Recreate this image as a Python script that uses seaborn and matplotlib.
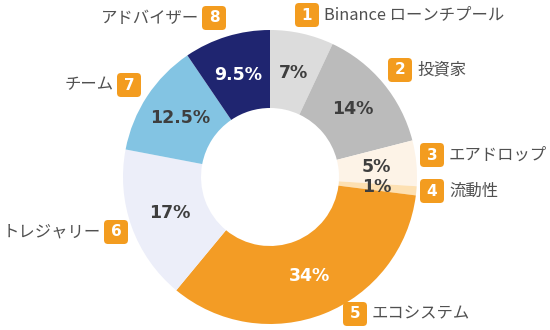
import numpy as np
import matplotlib
matplotlib.use("Agg")
import matplotlib.pyplot as plt
from matplotlib.patches import FancyBboxPatch
import seaborn as sns

sns.set_theme(style="white")
plt.rcParams["font.family"] = ["Noto Sans CJK JP", "DejaVu Sans"]

# Token allocation (%), clockwise from 12 o'clock
numbers = ["1", "2", "3", "4", "5", "6", "7", "8"]
categories = ["Binance ローンチプール", "投資家", "エアドロップ", "流動性",
              "エコシステム", "トレジャリー", "チーム", "アドバイザー"]
shares = [7, 14, 5, 1, 34, 17, 12.5, 9.5]
share_labels = ["7%", "14%", "5%", "1%", "34%", "17%", "12.5%", "9.5%"]

colors = ["#dcdcdc", "#bbbbbb", "#fdf3e7", "#fde0b2",
          "#f39c25", "#eceef9", "#83c4e3", "#1f2570"]
pct_colors = ["#3e3e3e", "#3e3e3e", "#3e3e3e", "#3e3e3e",
              "#ffffff", "#3e3e3e", "#3e3e3e", "#ffffff"]

W, H = 550, 330
CX, CY = 270, 177          # donut centre (pixels from top-left)
R_OUT, R_IN = 147, 69
ORANGE = "#f39c1f"

def fy(y):
    return H - y

fig = plt.figure(figsize=(W / 100, H / 100), dpi=100)
ax = fig.add_axes([0, 0, 1, 1])

wedges, _ = ax.pie(shares, colors=colors, startangle=90, counterclock=False,
                   radius=R_OUT, center=(CX, fy(CY)),
                   wedgeprops=dict(width=R_OUT - R_IN, linewidth=0))

# Percentages at the middle of each ring segment
r_lab = (R_OUT + R_IN) / 2 - 1
for w, txt, c in zip(wedges, share_labels, pct_colors):
    ang = np.deg2rad((w.theta1 + w.theta2) / 2)
    ax.text(CX + r_lab * np.cos(ang), fy(CY) + r_lab * np.sin(ang), txt,
            ha="center", va="center", fontsize=12.5, fontweight="bold",
            color=c, family=["DejaVu Sans"])

# Numbered badges with category names: (badge centre x, y, text side)
badge_pos = [(307, 15, "right"), (400, 70, "right"), (432, 155, "right"),
             (432, 191, "right"), (355, 314, "right"), (116, 232, "left"),
             (129, 85, "left"), (214, 18, "left")]
B = 24
for num, name, (bx, by, side) in zip(numbers, categories, badge_pos):
    ax.add_patch(FancyBboxPatch((bx - B / 2 + 3, fy(by) - B / 2 + 3), B - 6, B - 6,
                                boxstyle="round,pad=3,rounding_size=4",
                                fc=ORANGE, ec="none"))
    ax.text(bx, fy(by), num, ha="center", va="center", color="white",
            fontsize=11, fontweight="bold", family=["DejaVu Sans"])
    if side == "right":
        ax.text(bx + B / 2 + 5, fy(by), name, ha="left", va="center",
                fontsize=11.8, color="#505050")
    else:
        ax.text(bx - B / 2 - 3, fy(by), name, ha="right", va="center",
                fontsize=11.8, color="#505050")

ax.set_xlim(0, W)
ax.set_ylim(0, H)
ax.set_aspect("equal")
ax.axis("off")
fig.savefig("out.png", dpi=100, facecolor="white")
